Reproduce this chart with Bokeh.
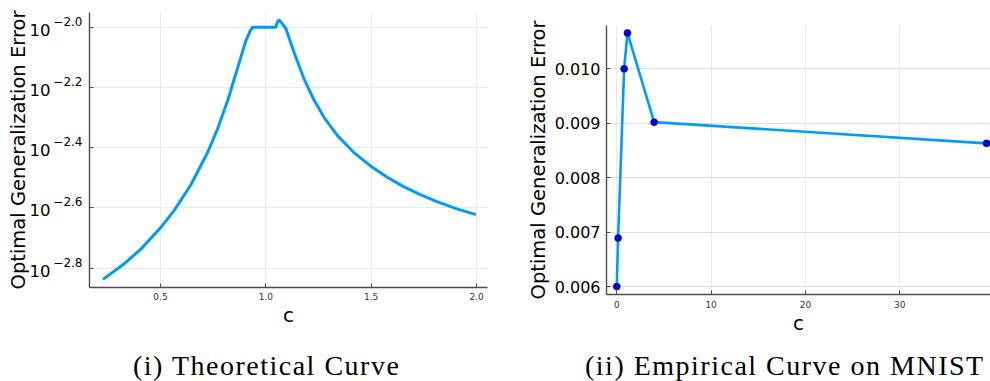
import numpy as np
from bokeh.plotting import figure
from bokeh.models import (Range1d, FixedTicker, CustomJSTickFormatter, Div, LogAxis,
                          PrintfTickFormatter)
from bokeh.layouts import row, column
from bokeh.embed import file_html
from bokeh.resources import INLINE

# ---------------- data ----------------
theory_c = [0.227, 0.330, 0.409, 0.500, 0.566, 0.645, 0.724, 0.771, 0.819, 0.866,
            0.905, 0.925, 0.937, 1.047, 1.055, 1.063, 1.072, 1.095, 1.134, 1.181,
            1.228, 1.276, 1.339, 1.418, 1.500, 1.576, 1.654, 1.733, 1.812, 1.907, 1.997]
theory_err = [0.001455, 0.001644, 0.001841, 0.002158, 0.002472, 0.003006, 0.003846,
              0.004603, 0.005715, 0.007328, 0.009016, 0.009705, 0.010000, 0.010000,
              0.010423, 0.010568, 0.010399, 0.009908, 0.008241, 0.006745, 0.005741,
              0.005023, 0.004375, 0.003837, 0.003451, 0.003177, 0.002958, 0.002780,
              0.002636, 0.002495, 0.002388]

mnist_c = [0.0, 0.14, 0.78, 1.13, 3.96, 39.2]
mnist_err = [0.00600, 0.00689, 0.01000, 0.01066, 0.00902, 0.00863]

left_xticks = [0.5, 1.0, 1.5, 2.0]
left_ytick_exponents = [-2.0, -2.2, -2.4, -2.6, -2.8]
left_ytick_exp_labels = ["\u22122.0", "\u22122.2", "\u22122.4", "\u22122.6", "\u22122.8"]
left_ytick_base = "10"
right_xticks = [0, 10, 20, 30, 40]
right_yticks = [0.006, 0.007, 0.008, 0.009, 0.010]
captions = ["(i) Theoretical Curve", "(ii) Empirical Curve on MNIST"]
xlabel = "c"
ylabel = "Optimal Generalization Error"

LINE_BLUE = "#009AFA"
AXIS_COL = "#4d4d4d"
GRID_COL = "#e9e9e9"
FONT = "DejaVu Sans"
YLABEL_SIZE = "19.5px"


def style(p):
    p.outline_line_color = None
    p.background_fill_color = "white"
    p.border_fill_color = "white"
    for ax in (p.xaxis, p.yaxis):
        ax.axis_line_color = AXIS_COL
        ax.axis_line_width = 1.4
        ax.major_tick_line_color = AXIS_COL
        ax.major_tick_in = 4
        ax.major_tick_out = 0
        ax.minor_tick_line_color = None
        ax.axis_label_text_font = FONT
        ax.axis_label_text_font_style = "normal"
        ax.axis_label_text_color = "black"
        ax.major_label_text_font = FONT
    p.xaxis.axis_label_text_font_size = "20px"
    p.yaxis.axis_label_text_font_size = YLABEL_SIZE
    p.xaxis.major_label_text_font_size = "9px"
    p.xaxis.major_label_text_color = "#333333"
    p.yaxis.major_label_text_color = "black"
    p.yaxis.major_label_text_font_size = "16px"
    p.xgrid.grid_line_color = GRID_COL
    p.ygrid.grid_line_color = GRID_COL
    p.xgrid.grid_line_width = 1
    p.ygrid.grid_line_width = 1


left_tick_vals = [10 ** e for e in left_ytick_exponents]


def label_axis(range_name, args, code, size, standoff, **kw):
    return LogAxis(y_range_name=range_name, ticker=FixedTicker(ticks=left_tick_vals),
                   formatter=CustomJSTickFormatter(args=args, code=code),
                   axis_line_color=None, major_tick_line_color=None,
                   minor_tick_line_color=None, major_tick_in=0, major_tick_out=0,
                   major_label_standoff=standoff, major_label_text_font=FONT,
                   major_label_text_font_size=size, major_label_text_color="black", **kw)


# ---------------- left panel ----------------
ly0, ly1 = -2.864, -1.951
PX_PER_DECADE = 275 / (ly1 - ly0)
p1 = figure(width=497, height=340, y_axis_type="log", title=None,
            x_range=Range1d(0.163, 2.052), y_range=Range1d(10 ** ly0, 10 ** ly1),
            output_backend="svg", toolbar_location=None,
            min_border_left=89, min_border_top=12, min_border_right=10, min_border_bottom=53)
style(p1)
p1.xaxis.ticker = FixedTicker(ticks=left_xticks)
p1.xaxis.formatter = PrintfTickFormatter(format="%.1f")
p1.xaxis.major_label_standoff = 5
p1.xaxis.axis_label_standoff = 0
p1.xaxis.axis_label = xlabel

# main axis: line + ticks only (labels drawn by the two axes outside it)
p1.yaxis.ticker = FixedTicker(ticks=left_tick_vals)
p1.yaxis.formatter = CustomJSTickFormatter(code="return '';")
p1.yaxis.major_label_standoff = 0

# exponent labels sit ~6px above their tick, the base "10" ~2.5px below
up, down = 6 / PX_PER_DECADE, 2.5 / PX_PER_DECADE
p1.extra_y_ranges = {"exp": Range1d(10 ** (ly0 - up), 10 ** (ly1 - up)),
                     "base": Range1d(10 ** (ly0 + down), 10 ** (ly1 + down))}
exp_code = """
    const lt = Math.log10(tick);
    let best = 0, bd = Infinity;
    for (let i = 0; i < exps.length; i++) {
        const d = Math.abs(lt - exps[i]);
        if (d < bd) { bd = d; best = i; }
    }
    return labels[best];
"""
p1.add_layout(label_axis("exp", dict(exps=left_ytick_exponents, labels=left_ytick_exp_labels),
                         exp_code, "12px", 7), "left")
p1.add_layout(label_axis("base", dict(base=left_ytick_base), "return base;", "16.5px", 0,
                         axis_label=ylabel, axis_label_standoff=-3, axis_label_text_font=FONT,
                         axis_label_text_font_size=YLABEL_SIZE, axis_label_text_font_style="normal",
                         axis_label_text_color="black"), "left")
p1.line(theory_c, theory_err, line_color=LINE_BLUE, line_width=3, line_join="round")

# ---------------- right panel ----------------
p2 = figure(width=493, height=340, title=None,
            x_range=Range1d(-1.09, 39.62), y_range=Range1d(0.005853, 0.010796),
            output_backend="svg", toolbar_location=None,
            min_border_left=109, min_border_top=25, min_border_right=0, min_border_bottom=46)
style(p2)
p2.xaxis.ticker = FixedTicker(ticks=right_xticks)
p2.yaxis.ticker = FixedTicker(ticks=right_yticks)
p2.yaxis.formatter = PrintfTickFormatter(format="%.3f")
p2.yaxis.major_label_standoff = 6
p2.yaxis.axis_label_standoff = 2
p2.xaxis.major_label_standoff = 6
p2.xaxis.axis_label_standoff = 0
p2.xaxis.axis_label = xlabel
p2.yaxis.axis_label = ylabel
p2.ygrid.grid_line_color = "#dedede"
p2.line(mnist_c, mnist_err, line_color=LINE_BLUE, line_width=2.6, line_join="round")
p2.scatter(mnist_c, mnist_err, size=7, fill_color="#0000DD", line_color="#00008B",
           line_width=0.6)

# ---------------- captions ----------------
cap_style = ("font-family: 'Liberation Serif', serif; font-size: 28px; letter-spacing: 1.5px;"
             " line-height: 28px; padding-top: 12px; white-space: nowrap; color: #000;")
d1 = Div(text=f'<div style="{cap_style} padding-left: 133px;">{captions[0]}</div>',
         width=497, height=41, margin=0)
d2 = Div(text=f'<div style="{cap_style} padding-left: 88px;">{captions[1]}</div>',
         width=493, height=41, margin=0)

layout = row(column(p1, d1, spacing=0), column(p2, d2, spacing=0), spacing=0)

open("out.html", "w").write(file_html(layout, INLINE))
